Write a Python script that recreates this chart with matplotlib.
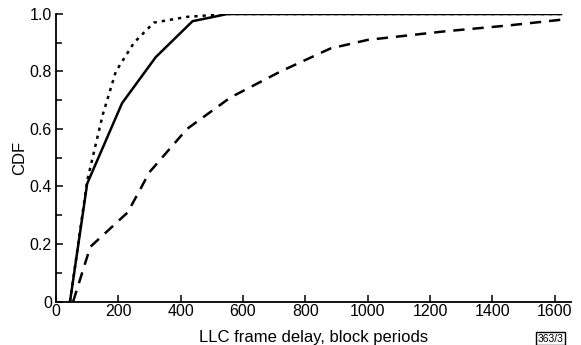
import numpy as np
import matplotlib.pyplot as plt
from matplotlib.ticker import MultipleLocator

# CDF curves (x in block periods)
solid_x = [45, 100, 212, 320, 438, 550, 1620]
solid_y = [0.0, 0.41, 0.69, 0.85, 0.975, 1.0, 1.0]

dotted_x = [45, 100, 150, 192, 250, 314, 420, 550, 1620]
dotted_y = [0.0, 0.42, 0.65, 0.80, 0.90, 0.97, 0.99, 1.0, 1.0]

dashed_x = [55, 110, 230, 300, 420, 560, 720, 880, 1000, 1250, 1450, 1620]
dashed_y = [0.0, 0.19, 0.31, 0.45, 0.60, 0.71, 0.80, 0.88, 0.91, 0.94, 0.96, 0.98]

plt.rcParams['font.family'] = ['Liberation Sans', 'DejaVu Sans']

fig = plt.figure(figsize=(5.81, 3.45), dpi=100, facecolor="w")
ax = fig.add_axes([56/581, 43.5/345, 515/581, 287.5/345])

ax.plot(solid_x, solid_y, c='k', lw=1.8, ls='-')
ax.plot(dotted_x, dotted_y, c='k', lw=1.8, ls=(0, (1.3, 2.0)))
ax.plot(dashed_x, dashed_y, c='k', lw=1.8, ls=(0, (4.5, 3.2)))

ax.spines['right'].set_color('none')
ax.spines['top'].set_color('none')
ax.spines['left'].set_linewidth(1.3)
ax.spines['bottom'].set_linewidth(1.3)
ax.xaxis.set_tick_params(direction="in", length=5, width=1.1, labelsize=11.5, pad=2)
ax.yaxis.set_tick_params(direction="in", length=5, width=1.1, labelsize=11.5, pad=3)
ax.yaxis.set_minor_locator(MultipleLocator(0.1))
ax.yaxis.set_tick_params(which='minor', direction="in", length=4, width=1.1)

ax.set_xlim(0, 1652)
ax.set_ylim(0, 1.0)
ax.set_xticks([0, 200, 400, 600, 800, 1000, 1200, 1400, 1600])
ax.set_yticks([0, 0.2, 0.4, 0.6, 0.8, 1.0])
ax.set_yticklabels(["0", "0.2", "0.4", "0.6", "0.8", "1.0"])

ax.set_xlabel("LLC frame delay, block periods", fontsize=12, labelpad=8)
ax.set_ylabel("CDF", fontsize=12, labelpad=2)

fig.text(0.925, 0.004, "363/3", fontsize=7.5, va="bottom", ha="left",
         bbox=dict(boxstyle="square,pad=0.15", fc="w", ec="k", lw=1))

fig.savefig("out.png", dpi=100)
